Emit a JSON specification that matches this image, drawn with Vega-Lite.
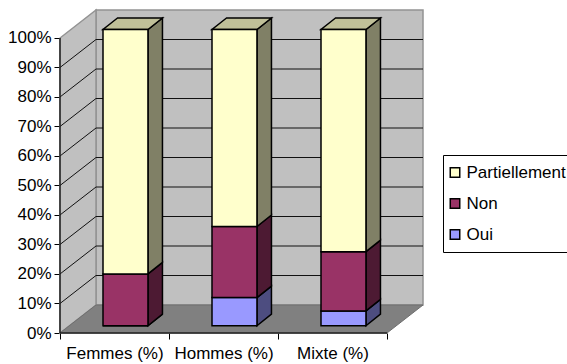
{
  "$schema": "https://vega.github.io/schema/vega-lite/v6.json",
  "width": 363,
  "height": 323,
  "autosize": "none",
  "padding": {"left": 60, "top": 10, "right": 144, "bottom": 31},
  "background": "white",
  "view": {"stroke": null},
  "config": {
    "font": "Liberation Sans",
    "axis": {"labelFont": "Liberation Sans", "labelFontSize": 17, "labelColor": "black"},
    "legend": {"labelFont": "Liberation Sans", "labelFontSize": 17, "labelColor": "black"}
  },
  "params": [
    {"name": "wallDx", "value": 0.3303},
    {"name": "wallDy", "value": 0.0949},
    {"name": "barDx", "value": 0.133},
    {"name": "barDy", "value": 0.039},
    {"name": "lift", "value": 0.0247},
    {"name": "span", "value": 1.0041}
  ],
  "datasets": {
    "shares": [
      {"category": "Femmes (%)", "series": "Oui", "value": 0},
      {"category": "Femmes (%)", "series": "Non", "value": 17.5},
      {"category": "Femmes (%)", "series": "Partiellement", "value": 82.5},
      {"category": "Hommes (%)", "series": "Oui", "value": 9.5},
      {"category": "Hommes (%)", "series": "Non", "value": 24},
      {"category": "Hommes (%)", "series": "Partiellement", "value": 66.5},
      {"category": "Mixte (%)", "series": "Oui", "value": 5},
      {"category": "Mixte (%)", "series": "Non", "value": 20},
      {"category": "Mixte (%)", "series": "Partiellement", "value": 75}
    ],
    "levels": [
      {"level": 0.1}, {"level": 0.2}, {"level": 0.3}, {"level": 0.4}, {"level": 0.5},
      {"level": 0.6}, {"level": 0.7}, {"level": 0.8}, {"level": 0.9}
    ],
    "frame": [{"part": "chart frame"}]
  },
  "data": {"name": "frame"},
  "resolve": {"axis": {"x": "independent", "y": "independent"}},
  "layer": [
    {
      "mark": {"type": "rect", "fill": "#c0c0c0", "stroke": "#939393", "strokeWidth": 1.5},
      "encoding": {
        "x": {
          "datum": 0.3303, "type": "quantitative",
          "scale": {"domain": [0, 3.3303], "nice": false, "zero": false},
          "axis": {
            "values": [0, 0.5, 1, 1.5, 2, 2.5, 3],
            "title": null, "grid": false, "domain": false,
            "tickColor": "black", "tickSize": 6, "tickWidth": 1,
            "tickOpacity": {"condition": {"test": "datum.value % 1 === 0", "value": 1}, "value": 0},
            "labelExpr": "datum.value === 0.5 ? 'Femmes (%)' : datum.value === 1.5 ? 'Hommes (%)' : datum.value === 2.5 ? 'Mixte (%)' : ''",
            "labelOverlap": false, "labelBound": false, "labelFlush": false, "labelPadding": 6
          }
        },
        "x2": {"datum": 3.3303},
        "y": {
          "datum": 0.0949, "type": "quantitative",
          "scale": {"domain": [0, 1.0949], "nice": false, "zero": false},
          "axis": {
            "values": [0, 0.1, 0.2, 0.3, 0.4, 0.5, 0.6, 0.7, 0.8, 0.9, 1],
            "format": ".0%", "title": null, "grid": false, "domain": false,
            "tickColor": "black", "tickSize": 6, "tickWidth": 1, "labelPadding": 3
          }
        },
        "y2": {"datum": 1.0949}
      }
    },
    {
      "transform": [
        {"calculate": "[0, 1]", "as": "depth"},
        {"flatten": ["depth"]},
        {"calculate": "datum.depth * wallDx", "as": "wx"},
        {"calculate": "datum.depth * wallDy", "as": "wy0"},
        {"calculate": "1 + datum.depth * wallDy", "as": "wy1"}
      ],
      "mark": {"type": "area", "fill": "#c0c0c0", "stroke": "#939393", "strokeWidth": 1.5, "orient": "vertical"},
      "encoding": {
        "x": {"field": "wx", "type": "quantitative", "scale": {"domain": [0, 3.3303], "nice": false, "zero": false}, "axis": null},
        "y": {"field": "wy0", "type": "quantitative", "stack": null, "scale": {"domain": [0, 1.0949], "nice": false, "zero": false}, "axis": null},
        "y2": {"field": "wy1"}
      }
    },
    {
      "transform": [
        {"calculate": "[0, 1]", "as": "depth"},
        {"flatten": ["depth"]},
        {"calculate": "datum.depth * wallDx", "as": "fx0"},
        {"calculate": "3 + datum.depth * wallDx", "as": "fx1"},
        {"calculate": "datum.depth * wallDy", "as": "fy"}
      ],
      "mark": {"type": "area", "fill": "#808080", "stroke": "#6e6e6e", "strokeWidth": 1, "orient": "horizontal"},
      "encoding": {
        "x": {"field": "fx0", "type": "quantitative", "stack": null, "scale": {"domain": [0, 3.3303], "nice": false, "zero": false}, "axis": null},
        "x2": {"field": "fx1"},
        "y": {"field": "fy", "type": "quantitative", "scale": {"domain": [0, 1.0949], "nice": false, "zero": false}, "axis": null}
      }
    },
    {
      "data": {"name": "levels"},
      "transform": [
        {"calculate": "[0, 1, 2]", "as": "leg"},
        {"flatten": ["leg"]},
        {"calculate": "datum.leg === 0 ? 0 : datum.leg === 1 ? wallDx : 3 + wallDx", "as": "gx"},
        {"calculate": "datum.leg === 0 ? datum.level : datum.level + wallDy", "as": "gy"}
      ],
      "mark": {"type": "line", "stroke": "#111", "strokeWidth": 1},
      "encoding": {
        "x": {"field": "gx", "type": "quantitative", "scale": {"domain": [0, 3.3303], "nice": false, "zero": false}, "axis": null},
        "y": {"field": "gy", "type": "quantitative", "scale": {"domain": [0, 1.0949], "nice": false, "zero": false}, "axis": null},
        "detail": {"field": "level"}
      }
    },
    {
      "mark": {"type": "rule", "stroke": "#222", "strokeWidth": 1.5},
      "encoding": {
        "x": {"datum": 0, "type": "quantitative", "scale": {"domain": [0, 3.3303], "nice": false, "zero": false}, "axis": null},
        "y": {"datum": 0, "type": "quantitative", "scale": {"domain": [0, 1.0949], "nice": false, "zero": false}, "axis": null},
        "y2": {"datum": 1}
      }
    },
    {
      "mark": {"type": "rule", "stroke": "#222", "strokeWidth": 1.5},
      "encoding": {
        "x": {"datum": 0, "type": "quantitative", "scale": {"domain": [0, 3.3303], "nice": false, "zero": false}, "axis": null},
        "x2": {"datum": 3},
        "y": {"datum": 0, "type": "quantitative", "scale": {"domain": [0, 1.0949], "nice": false, "zero": false}, "axis": null}
      }
    },
    {
      "data": {"name": "shares"},
      "transform": [
        {"stack": "value", "groupby": ["category"], "as": ["v0", "v1"]},
        {"calculate": "indexof(['Femmes (%)', 'Hommes (%)', 'Mixte (%)'], datum.category)", "as": "slot"},
        {"calculate": "datum.slot + 0.3945", "as": "left"},
        {"calculate": "datum.slot + 0.807", "as": "right"},
        {"calculate": "lift + datum.v0 / 100 * span", "as": "base"},
        {"calculate": "lift + datum.v1 / 100 * span", "as": "head"}
      ],
      "layer": [
        {
          "transform": [
            {"calculate": "[0, 1]", "as": "depth"},
            {"flatten": ["depth"]},
            {"calculate": "datum.right + datum.depth * barDx", "as": "sx"},
            {"calculate": "datum.base + datum.depth * barDy", "as": "sy0"},
            {"calculate": "datum.head + datum.depth * barDy", "as": "sy1"}
          ],
          "mark": {"type": "area", "stroke": "black", "strokeWidth": 1.5, "orient": "vertical"},
          "encoding": {
            "x": {"field": "sx", "type": "quantitative", "scale": {"domain": [0, 3.3303], "nice": false, "zero": false}, "axis": null},
            "y": {"field": "sy0", "type": "quantitative", "stack": null, "scale": {"domain": [0, 1.0949], "nice": false, "zero": false}, "axis": null},
            "y2": {"field": "sy1"},
            "detail": {"field": "category"},
            "color": {
              "field": "series", "type": "nominal", "legend": null,
              "scale": {"domain": ["Partiellement", "Non", "Oui"], "range": ["#808066", "#4d1a33", "#4d4d80"]}
            }
          }
        },
        {
          "transform": [
            {"filter": "datum.series === 'Partiellement'"},
            {"calculate": "[0, 1]", "as": "depth"},
            {"flatten": ["depth"]},
            {"calculate": "datum.left + datum.depth * barDx", "as": "tx0"},
            {"calculate": "datum.right + datum.depth * barDx", "as": "tx1"},
            {"calculate": "datum.head + datum.depth * barDy", "as": "ty"}
          ],
          "mark": {"type": "area", "fill": "#c0c099", "stroke": "black", "strokeWidth": 1.5, "orient": "horizontal"},
          "encoding": {
            "x": {"field": "tx0", "type": "quantitative", "stack": null, "scale": {"domain": [0, 3.3303], "nice": false, "zero": false}, "axis": null},
            "x2": {"field": "tx1"},
            "y": {"field": "ty", "type": "quantitative", "scale": {"domain": [0, 1.0949], "nice": false, "zero": false}, "axis": null},
            "detail": {"field": "category"}
          }
        },
        {
          "mark": {"type": "rect", "stroke": "black", "strokeWidth": 1.5},
          "encoding": {
            "x": {"field": "left", "type": "quantitative", "scale": {"domain": [0, 3.3303], "nice": false, "zero": false}, "axis": null},
            "x2": {"field": "right"},
            "y": {"field": "base", "type": "quantitative", "scale": {"domain": [0, 1.0949], "nice": false, "zero": false}, "axis": null},
            "y2": {"field": "head"},
            "color": {
              "field": "series", "type": "nominal",
              "scale": {"domain": ["Partiellement", "Non", "Oui"], "range": ["#ffffcc", "#993366", "#9999ff"]},
              "legend": {
                "title": null, "orient": "none", "legendX": 383, "legendY": 145,
                "symbolType": "square", "symbolSize": 90, "symbolStrokeColor": "black", "symbolStrokeWidth": 1.5,
                "symbolOffset": -5.5, "symbolOpacity": 1, "strokeColor": "black", "fillColor": "white",
                "padding": 9, "rowPadding": 13, "labelOffset": 3, "labelLimit": 200
              }
            }
          }
        }
      ],
      "resolve": {"scale": {"color": "independent"}}
    }
  ]
}
